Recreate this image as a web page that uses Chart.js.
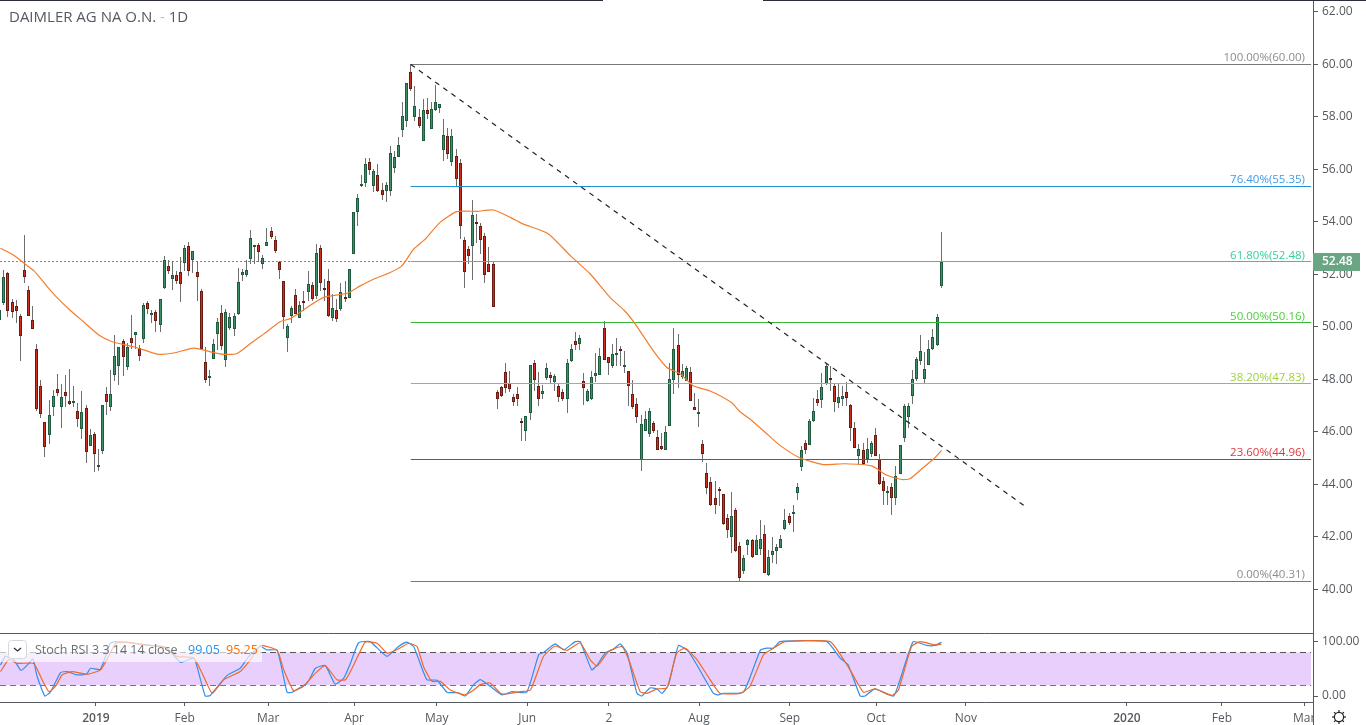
<!DOCTYPE html>
<html>
<head>
<meta charset="utf-8">
<title>DAIMLER AG NA O.N. - 1D</title>
<script src="https://cdn.jsdelivr.net/npm/chart.js@4"></script>
<style>
    html, body { margin: 0; padding: 0; background: #fff; overflow: hidden; }
    canvas { position: absolute; left: 0; }
    #priceChart { top: 0; }
    #stochChart { top: 633px; }
</style>
</head>
<body>
<canvas id="priceChart" width="1366" height="633"></canvas>
<canvas id="stochChart" width="1366" height="92"></canvas>
<script>
// daily candles
const opens = [
    50.27, 50.92, 52.05, 50.96, 50.81, 50.41, 52.18, 51.42, 50.27, 49.16,
    47.75, 46.38, 45.89, 46.93, 47.64, 46.93, 47.51, 47.17, 47.12, 46.79,
    46.12, 46.90, 45.47, 45.91, 44.65, 45.27, 47.43, 46.93, 48.15, 48.49,
    49.46, 48.45, 49.57, 49.67, 49.19, 49.52, 50.91, 50.44, 50.56, 50.05,
    51.47, 52.32, 51.81, 51.98, 52.09, 52.43, 53.08, 52.55, 52.07, 51.37,
    48.66, 48.07, 48.76, 49.71, 50.53, 48.73, 49.95, 49.93, 50.50, 51.96,
    51.96, 52.57, 53.06, 53.13, 52.41, 53.06, 53.65, 53.30, 52.46, 51.74,
    49.59, 50.42, 51.20, 50.35, 50.98, 51.31, 51.59, 51.19, 53.00, 51.49,
    51.74, 50.35, 50.63, 50.66, 51.13, 51.08, 52.76, 54.36, 55.35, 55.47,
    56.28, 55.35, 55.78, 55.21, 55.16, 55.16, 56.04, 56.47, 57.50, 57.85,
    59.72, 57.99, 58.01, 57.08, 58.27, 57.54, 58.28, 58.33, 56.74, 57.27,
    56.28, 56.51, 56.24, 53.30, 52.96, 53.06, 53.99, 53.84, 53.46, 52.40,
    52.40, 47.51, 47.70, 48.27, 47.85, 47.31, 47.43, 46.40, 46.04, 46.73,
    48.61, 47.75, 47.45, 48.03, 48.15, 47.91, 47.75, 47.51, 47.26, 48.71,
    49.45, 49.36, 47.93, 47.17, 47.23, 48.14, 48.18, 49.95, 48.84, 48.49,
    48.96, 49.15, 48.45, 48.31, 47.43, 47.05, 44.92, 46.03, 45.93, 46.32,
    45.79, 45.44, 45.32, 46.20, 47.96, 49.30, 48.10, 47.95, 48.27, 46.93,
    46.69, 45.52, 44.41, 44.07, 43.46, 43.83, 43.61, 42.73, 41.99, 43.00,
    41.66, 40.70, 41.69, 41.88, 41.31, 41.54, 42.12, 40.54, 41.31, 41.46,
    41.57, 42.29, 42.77, 42.91, 43.67, 44.67, 45.56, 45.50, 46.40, 47.24,
    47.22, 47.83, 48.04, 47.73, 47.11, 47.26, 47.50, 47.02, 46.13, 45.09,
    45.29, 44.95, 45.17, 45.86, 44.95, 44.11, 43.70, 43.91, 43.48, 44.40,
    45.77, 46.57, 47.38, 48.00, 48.69, 48.00, 48.54, 49.15, 49.30, 51.54
];
const highs = [
    50.70, 52.17, 52.08, 51.06, 51.02, 50.49, 53.48, 51.57, 50.81, 49.34,
    47.98, 46.38, 47.22, 47.60, 48.20, 47.82, 48.17, 48.39, 47.75, 47.09,
    47.56, 47.01, 46.10, 46.00, 45.33, 47.01, 47.71, 48.36, 49.70, 49.24,
    49.53, 49.37, 50.46, 49.80, 49.32, 50.89, 51.00, 50.64, 50.64, 51.06,
    52.68, 52.55, 52.52, 52.14, 52.65, 53.10, 53.25, 52.90, 52.52, 51.44,
    49.24, 48.36, 49.53, 50.34, 50.84, 50.68, 50.51, 50.52, 52.24, 52.20,
    52.54, 53.69, 53.11, 53.21, 52.74, 53.76, 53.79, 53.46, 52.49, 51.75,
    50.10, 50.80, 51.45, 50.99, 51.37, 52.13, 51.71, 53.16, 53.11, 51.82,
    52.20, 51.24, 51.07, 51.65, 51.75, 52.20, 54.37, 55.06, 55.79, 56.43,
    56.43, 56.01, 56.20, 55.47, 55.50, 56.90, 56.71, 57.25, 58.58, 59.30,
    60.00, 59.19, 58.30, 58.69, 58.72, 58.56, 59.22, 58.50, 57.92, 57.58,
    57.55, 56.78, 56.40, 53.41, 53.09, 54.84, 54.30, 53.95, 53.56, 53.05,
    52.52, 47.58, 47.76, 48.63, 48.32, 47.43, 47.71, 46.51, 46.59, 48.54,
    48.73, 48.28, 47.79, 48.63, 48.28, 48.19, 47.85, 47.62, 48.76, 49.34,
    49.80, 49.69, 48.24, 47.62, 48.32, 49.01, 49.19, 50.23, 48.85, 49.36,
    49.57, 49.27, 49.08, 48.32, 47.96, 47.28, 46.64, 46.79, 46.89, 46.41,
    46.05, 45.95, 46.22, 48.63, 49.95, 49.72, 48.57, 48.51, 48.45, 47.48,
    47.24, 45.67, 44.81, 44.27, 44.12, 43.89, 43.61, 42.85, 43.70, 43.10,
    41.80, 41.32, 41.93, 41.93, 42.08, 42.65, 42.44, 41.51, 41.98, 41.73,
    42.08, 43.07, 42.92, 43.20, 44.03, 45.45, 45.68, 46.47, 47.27, 47.58,
    48.23, 48.60, 48.51, 47.85, 47.81, 47.76, 47.88, 47.04, 46.37, 45.54,
    45.56, 45.75, 45.65, 46.13, 45.14, 44.27, 43.93, 44.05, 44.69, 45.48,
    47.07, 47.11, 48.36, 48.85, 49.68, 49.05, 49.49, 49.91, 50.50, 53.63
];
const lows = [
    50.20, 50.84, 50.36, 50.32, 50.13, 48.71, 51.66, 50.40, 49.90, 46.80,
    46.54, 45.04, 45.54, 46.61, 47.37, 46.16, 46.93, 47.01, 46.93, 46.19,
    45.73, 44.79, 45.47, 44.48, 44.51, 45.17, 46.65, 46.80, 47.94, 47.79,
    48.11, 48.35, 49.15, 49.15, 48.68, 49.37, 50.49, 50.13, 49.79, 49.81,
    51.44, 52.01, 51.42, 51.63, 50.93, 52.12, 51.95, 52.04, 51.00, 49.16,
    47.85, 47.76, 48.76, 49.13, 49.13, 48.45, 49.88, 49.63, 50.45, 51.73,
    51.88, 52.39, 52.39, 52.46, 52.21, 53.06, 53.33, 52.80, 51.83, 49.90,
    49.05, 50.16, 50.48, 50.33, 50.61, 50.99, 50.99, 51.05, 51.35, 50.99,
    50.39, 50.23, 50.20, 50.61, 50.93, 51.08, 52.76, 53.85, 55.34, 55.31,
    55.80, 55.12, 55.12, 54.82, 54.74, 54.97, 55.87, 56.46, 57.22, 57.63,
    59.00, 57.83, 57.57, 57.07, 57.90, 57.53, 58.23, 58.16, 56.31, 56.40,
    56.14, 55.38, 53.33, 51.46, 52.39, 51.80, 53.21, 52.77, 51.65, 52.07,
    50.77, 46.88, 47.33, 47.48, 47.52, 46.98, 46.98, 45.65, 45.65, 46.46,
    47.56, 46.98, 47.23, 47.99, 47.87, 47.56, 47.15, 47.17, 46.73, 48.64,
    49.11, 49.13, 47.03, 47.15, 47.20, 47.90, 48.17, 48.75, 48.17, 48.42,
    48.50, 48.51, 48.22, 46.98, 46.87, 46.35, 44.50, 46.03, 45.80, 45.95,
    45.32, 45.32, 45.32, 46.20, 47.45, 47.65, 48.00, 47.94, 47.18, 46.84,
    46.18, 44.86, 43.63, 43.16, 42.87, 43.16, 42.46, 41.95, 41.38, 41.42,
    40.28, 40.58, 41.29, 41.17, 41.31, 41.32, 40.63, 40.52, 41.00, 40.96,
    41.57, 42.26, 42.46, 42.18, 43.41, 44.50, 45.17, 45.49, 46.38, 46.98,
    46.92, 47.77, 47.55, 46.76, 46.92, 46.98, 46.98, 45.65, 45.39, 44.73,
    44.75, 44.82, 45.05, 45.06, 43.97, 43.20, 43.20, 42.82, 43.20, 44.40,
    45.62, 46.15, 47.07, 47.93, 48.56, 47.84, 48.54, 49.12, 49.27, 51.49
];
const closes = [
    50.65, 51.91, 50.62, 50.55, 50.62, 49.64, 51.89, 50.40, 49.93, 46.85,
    46.66, 45.40, 46.65, 47.36, 47.46, 47.32, 47.35, 47.04, 47.17, 46.47,
    46.75, 45.21, 45.87, 45.17, 44.72, 47.01, 47.12, 47.43, 48.88, 49.23,
    48.83, 49.24, 49.37, 49.80, 48.87, 50.83, 50.67, 50.53, 50.21, 51.06,
    52.55, 52.14, 51.99, 51.73, 51.62, 53.01, 52.12, 52.88, 51.89, 49.16,
    47.96, 48.12, 49.34, 50.18, 49.25, 50.56, 50.36, 50.42, 51.70, 52.08,
    52.16, 53.38, 53.11, 52.85, 52.62, 53.23, 53.44, 52.88, 52.15, 50.39,
    50.02, 50.71, 50.50, 50.82, 50.93, 51.62, 51.05, 52.81, 51.65, 51.45,
    50.43, 50.71, 50.31, 51.32, 51.04, 52.20, 54.37, 54.91, 55.44, 56.20,
    55.96, 55.94, 55.16, 55.01, 55.40, 56.62, 56.47, 56.93, 58.04, 59.30,
    59.05, 58.42, 57.64, 58.27, 58.10, 58.30, 58.57, 58.50, 57.31, 56.57,
    57.27, 55.62, 53.83, 52.07, 52.68, 54.27, 53.94, 53.29, 51.96, 52.07,
    50.77, 47.26, 47.38, 47.65, 47.61, 47.15, 47.23, 46.35, 46.59, 48.54,
    47.99, 47.26, 47.54, 48.42, 48.03, 48.12, 47.34, 47.26, 48.61, 49.15,
    49.32, 49.57, 47.68, 47.54, 48.08, 48.23, 48.88, 48.75, 48.61, 48.96,
    49.01, 49.06, 48.54, 47.73, 46.95, 46.58, 46.28, 46.48, 46.78, 46.03,
    45.32, 45.36, 45.98, 48.00, 49.15, 48.18, 48.31, 48.42, 47.19, 46.84,
    46.74, 45.16, 43.86, 43.21, 43.21, 43.79, 42.49, 42.26, 42.77, 41.46,
    40.43, 41.17, 41.88, 41.23, 41.89, 41.93, 40.63, 41.24, 41.47, 41.62,
    41.93, 42.62, 42.53, 42.96, 43.91, 45.29, 45.31, 46.40, 46.78, 47.11,
    47.71, 48.49, 47.99, 47.15, 47.31, 47.35, 47.27, 46.15, 45.39, 45.33,
    44.78, 45.33, 45.56, 45.09, 43.99, 43.76, 43.74, 43.48, 44.33, 45.48,
    47.00, 47.00, 48.00, 48.76, 49.07, 48.38, 49.15, 49.61, 50.37, 52.48
];

// orange moving average, picked up along its length
const smaBars = [
    0.2, 3.4, 6.1, 8.3, 11.5, 14, 16.8, 20.4, 24.1, 27.4, 32.6, 38.3, 42.3, 47.2, 52, 54.5,
    57.7, 61, 64.2, 68.3, 70.7, 74.7, 78.8, 84.5, 87.7, 90.9, 95, 97.8, 100.7, 103.5, 107.1,
    111.2, 116.1, 120.1, 124.2, 127.1, 133.4, 138.8, 143.6, 148.5, 152, 154.6, 159, 162.3,
    165.5, 168.7, 172.8, 178, 180.1, 182.9, 186.1, 189.8, 194.6, 200.3, 205.6, 212.1, 215.7,
    219.4, 221.4, 224.6, 227.1, 229.1
];
const smaValues = [
    52.99, 52.73, 52.40, 52.14, 51.54, 51.10, 50.68, 50.19, 49.69, 49.43, 49.24, 48.96, 49.00, 49.19, 49.02, 48.95,
    48.98, 49.36, 49.72, 50.20, 50.31, 50.73, 51.12, 51.28, 51.56, 51.81, 52.07, 52.32, 52.96, 53.34, 53.98,
    54.39, 54.40, 54.45, 54.17, 53.93, 53.55, 52.71, 52.02, 51.11, 50.61, 50.10, 49.08, 48.45,
    48.21, 47.75, 47.55, 47.11, 46.76, 46.43, 45.99, 45.48, 45.01, 44.75, 44.78, 44.70, 44.35,
    44.18, 44.21, 44.63, 44.95, 45.29
];

// fibonacci levels
const fibLevels = [60.00, 55.35, 52.48, 50.16, 47.83, 44.96, 40.31];
const fibLabels = ['100.00%(60.00)', '76.40%(55.35)', '61.80%(52.48)', '50.00%(50.16)', '38.20%(47.83)', '23.60%(44.96)', '0.00%(40.31)'];
const fibLineColors = ['#787878', '#1f8fd6', '#22cf9e', '#35b835', '#8fcc1c', '#c62f2f', '#787878'];
const fibTextColors = ['#8c8c8c', '#3f9be6', '#35cf9f', '#4ccf3c', '#9fcf3f', '#e0383e', '#8c8c8c'];
const fibBars = [100, 319];

const trendBars = [100, 250];
const trendValues = [60.00, 43.09];
const lastPrice = 52.48;

// stoch rsi
const kBars = [
    0.2, 1.4, 3.4, 5.2, 7.1, 8.1, 9.1, 11, 12.4, 14.8, 16.4, 18.8, 21.1, 22.1, 24.5, 26.9, 28.2, 32.6, 35.9, 40.7,
    44, 47.2, 48, 50, 51.2, 55.3, 58.5, 60.6, 63.4, 65, 67.5, 69.9, 71.1, 74.8, 76.8, 79.2, 81.6, 83.7, 85.3, 87.3,
    90.1, 94.2, 97, 99, 100.7, 103.9, 106.4, 108.8, 111.6, 113.2, 115.3, 116.9, 119.3, 122.2, 124.6, 128.2, 131.1,
    132.3, 135.1, 137.2, 140, 141.2, 144, 145.3, 147.3, 149.3, 150.9, 152.6, 155, 156.2, 158.2, 159.9, 161.1, 162.7,
    165.1, 167.5, 169.6, 173.6, 174.8, 176, 180.9, 185, 186.6, 188.2, 189.8, 201.2, 204.4, 206.4, 209.3, 210.5, 212.9,
    217.4, 219, 222.2, 225.5, 227.5, 229.1
];
const kValues = [
    57, 73, 67, 47, 60, 68, 36, 0, 8, 43, 45, 39, 40, 51, 49, 97, 100, 97, 94, 88,
    62, 70, 54, 0, 1, 38, 51, 73, 91, 85, 84, 7, 7, 24, 51, 56, 22, 33, 60, 98,
    100, 73, 91, 99, 91, 30, 29, 7, 6, 0, 21, 30, 18, 2, 8, 7, 76,
    80, 96, 85, 100, 100, 48, 57, 79, 86, 96, 79, 5, 0, 15, 13, 5, 21,
    93, 82, 57, 5, 2, 5, 7, 84, 88, 88, 100, 100, 70, 57, 0, 0, 13,
    0, 30, 100, 93, 93, 99.05
];
const dBars = [
    0.2, 2.2, 4.2, 8.3, 10.3, 12, 13.6, 15.2, 17.6, 21.3, 24.5, 26.1, 28.2, 31, 35.9, 39.9, 43.1, 47.2, 49.6, 51.7,
    54.5, 58.5, 61, 63.4, 67.5, 69.1, 71.5, 73.9, 76.8, 79.2, 82, 84.1, 86.1, 88.9, 91.8, 94.2, 96.6, 99.5, 101.5,
    103.1, 105.1, 107.2, 109.6, 113.2, 115.3, 116.9, 119.3, 121.8, 123.4, 126.6, 129.1, 132.3, 135.1, 138, 141.2,
    143.6, 145.3, 148.1, 151.3, 153, 155.8, 157.4, 159.9, 162.3, 164.7, 166.7, 169.6, 172.8, 175.2, 180.1, 182.5,
    185.8, 188.2, 191, 202, 205.6, 207.3, 210.1, 212.9, 217, 218.6, 221.8, 223.9, 227.5, 229.1
];
const dValues = [
    45, 67, 60, 60, 30, 8, 18, 39, 45, 40, 48, 67, 97, 99, 93, 91, 73, 70, 36, 5,
    30, 45, 67, 93, 84, 48, 10, 18, 42, 56, 30, 30, 57, 99, 97, 79, 85, 97, 91,
    54, 27, 27, 11, 2, 11, 21, 24, 5, 4, 8, 11, 73, 92, 84, 98,
    67, 55, 82, 91, 67, 8, 5, 13, 15, 79, 88, 67, 30, 5, 5, 18,
    76, 88, 100, 100, 63, 42, 7, 13, 1, 11, 91, 100, 94, 95.25
];

// axes
const priceTicks = [40, 42, 44, 46, 48, 50, 52, 54, 56, 58, 60, 62];
const stochTicks = [0, 100];
const monthTickBars = [23.4, 45, 65.3, 86.2, 106.3, 128.3, 148.2, 170.1, 192.2, 213.2, 235, 274.2, 297.3, 317.3];
const monthTickLabels = ['2019', 'Feb', 'Mar', 'Apr', 'May', 'Jun', '2', 'Aug', 'Sep', 'Oct', 'Nov', '2020', 'Feb', 'Mar'];

const FONT = '"Open Sans", sans-serif';
const AXIS_COLOR = '#555a60';
const TEXT_COLOR = '#555a60';
const AXIS_WIDTH = 53;
const xMin = 0.073;
const xMax = 319.45;

function pairs(xs, ys) {
    return xs.map((x, i) => ({ x: x, y: ys[i] }));
}

const wicks = opens.map((o, i) => ({ x: i, y: [lows[i], highs[i]] }));
const upBodies = [];
const downBodies = [];
opens.forEach((o, i) => {
    if (closes[i] >= o) upBodies.push({ x: i, y: [o, closes[i]] });
    else downBodies.push({ x: i, y: [closes[i], o] });
});

// keep candles and level lines on whole pixels like the original
const snapMarks = {
    id: 'snapMarks',
    beforeDatasetsDraw(chart) {
        chart.getSortedVisibleDatasetMetas().forEach(meta => {
            if (meta.type === 'bar') {
                meta.data.forEach(el => {
                    const top = Math.round(Math.min(el.y, el.base));
                    const bottom = Math.round(Math.max(el.y, el.base));
                    el.x = Math.floor(el.x) + 0.5;
                    el.y = top;
                    el.base = Math.max(bottom, top + 2);
                });
            } else if (chart.data.datasets[meta.index].snap) {
                meta.data.forEach(pt => { pt.y = Math.floor(pt.y) + 0.5; });
            }
        });
    }
};

function fitAxis(s) {
    s.width = AXIS_WIDTH;
    s.paddingTop = 0;
    s.paddingBottom = 0;
}

const priceDecor = {
    id: 'priceDecor',
    afterDatasetsDraw(chart) {
        const { ctx, scales } = chart;
        ctx.save();
        ctx.font = '11.5px ' + FONT;
        ctx.textAlign = 'right';
        ctx.textBaseline = 'alphabetic';
        fibLevels.forEach((lvl, i) => {
            ctx.fillStyle = fibTextColors[i];
            ctx.fillText(fibLabels[i], 1305, scales.y.getPixelForValue(lvl) - 3);
        });
        ctx.restore();
    },
    afterDraw(chart) {
        const { ctx, scales } = chart;
        ctx.save();
        // title
        ctx.font = '15px ' + FONT;
        ctx.textAlign = 'left';
        ctx.textBaseline = 'middle';
        ctx.fillStyle = TEXT_COLOR;
        ctx.fillText('DAIMLER AG NA O.N.', 9, 18);
        const w = ctx.measureText('DAIMLER AG NA O.N. ').width;
        ctx.fillStyle = '#b9bcc2';
        ctx.fillText('-', 9 + w, 18);
        ctx.fillStyle = TEXT_COLOR;
        ctx.fillText('1D', 9 + w + ctx.measureText('- ').width, 18);

        // top edge of the page
        ctx.fillStyle = '#2a2e39';
        ctx.fillRect(0, 0, 603, 1);
        ctx.fillRect(763, 0, 603, 1);

        // last price tag
        const y = Math.round(scales.y.getPixelForValue(lastPrice));
        ctx.fillStyle = '#6aa584';
        ctx.fillRect(1313, y - 9, 47, 18);
        ctx.font = '600 12px ' + FONT;
        ctx.fillStyle = '#fff';
        ctx.fillText(lastPrice.toFixed(2), 1322, y);
        ctx.restore();
    }
};

const stochDecor = {
    id: 'stochDecor',
    afterDatasetsDraw(chart) {
        const { ctx } = chart;
        ctx.save();
        // legend backdrop
        ctx.fillStyle = 'rgba(255,255,255,0.65)';
        ctx.fillRect(0, 7, 262, 22);
        // dropdown button
        ctx.fillStyle = '#fff';
        ctx.strokeStyle = '#d4d6da';
        ctx.beginPath();
        ctx.roundRect(8.5, 7.5, 18, 18, 3);
        ctx.fill();
        ctx.stroke();
        ctx.strokeStyle = '#333';
        ctx.lineWidth = 1.3;
        ctx.beginPath();
        ctx.moveTo(14, 15);
        ctx.lineTo(17.5, 18);
        ctx.lineTo(21, 15);
        ctx.stroke();
        // legend text
        ctx.font = '12.5px ' + FONT;
        ctx.textAlign = 'left';
        ctx.textBaseline = 'middle';
        ctx.fillStyle = '#6b7078';
        ctx.fillText('Stoch RSI 3 3 14 14 close', 35, 17);
        ctx.fillStyle = '#2196f3';
        ctx.fillText(kValues[kValues.length - 1].toFixed(2), 188, 17);
        ctx.fillStyle = '#ff6d00';
        ctx.fillText(dValues[dValues.length - 1].toFixed(2), 226, 17);
        ctx.restore();
    },
    afterDraw(chart) {
        const { ctx, chartArea } = chart;
        ctx.save();
        // pane top line
        ctx.strokeStyle = AXIS_COLOR;
        ctx.beginPath();
        ctx.moveTo(0, 0.5);
        ctx.lineTo(1313, 0.5);
        ctx.stroke();
        // hide the end of the last month label under the price axis
        ctx.fillStyle = '#fff';
        ctx.fillRect(1314, chartArea.bottom + 1, 52, 23);
        ctx.beginPath();
        ctx.moveTo(1313.5, chartArea.top);
        ctx.lineTo(1313.5, chart.height);
        ctx.stroke();
        // settings icon
        const cx = 1339, cy = 84;
        ctx.strokeStyle = '#222';
        ctx.lineWidth = 1.2;
        ctx.beginPath();
        ctx.arc(cx, cy, 4.6, 0, Math.PI * 2);
        ctx.stroke();
        for (let i = 0; i < 8; i++) {
            const a = i * Math.PI / 4;
            ctx.beginPath();
            ctx.moveTo(cx + Math.cos(a) * 4.6, cy + Math.sin(a) * 4.6);
            ctx.lineTo(cx + Math.cos(a) * 7, cy + Math.sin(a) * 7);
            ctx.stroke();
        }
        ctx.restore();
    }
};

const bandTop = 80;
const bandBottom = 20;

const priceDatasets = [
    {
        type: 'line', label: 'Trend', data: pairs(trendBars, trendValues), order: 0,
        borderColor: '#222', borderWidth: 1.2, borderDash: [5, 5], pointRadius: 0
    },
    {
        type: 'line', label: 'MA', data: pairs(smaBars, smaValues), order: 1,
        borderColor: '#f57c2c', borderWidth: 1.2, pointRadius: 0, tension: 0.2
    }
];
fibLevels.forEach((lvl, i) => {
    priceDatasets.push({
        type: 'line', label: fibLabels[i], data: pairs(fibBars, [lvl, lvl]), order: 2, snap: true,
        borderColor: fibLineColors[i], borderWidth: 1, pointRadius: 0
    });
});
priceDatasets.push(
    {
        label: 'Up', data: upBodies, order: 3, grouped: false, barThickness: 3, borderWidth: 1,
        backgroundColor: '#3f8f66', borderColor: '#1e5a3e', borderSkipped: false, inflateAmount: 0
    },
    {
        label: 'Down', data: downBodies, order: 3, grouped: false, barThickness: 3, borderWidth: 1,
        backgroundColor: '#c9301f', borderColor: '#6b1a12', borderSkipped: false, inflateAmount: 0
    },
    {
        label: 'Wick', data: wicks, order: 4, grouped: false, barThickness: 1, borderWidth: 0,
        backgroundColor: '#6e6e6e', inflateAmount: 0
    },
    {
        type: 'line', label: 'Last', data: pairs([xMin, 100], [lastPrice, lastPrice]), order: 5, snap: true,
        borderColor: '#5f9e7c', borderWidth: 1, borderDash: [2, 2], pointRadius: 0
    }
);

new Chart(document.getElementById('priceChart').getContext('2d'), {
    type: 'bar',
    data: { datasets: priceDatasets },
    plugins: [snapMarks, priceDecor],
    options: {
        responsive: false,
        animation: false,
        devicePixelRatio: 1,
        layout: { padding: 0 },
        plugins: { legend: { display: false }, tooltip: { enabled: false } },
        scales: {
            x: { type: 'linear', min: xMin, max: xMax, offset: false, display: false },
            y: {
                position: 'right',
                min: 38.33,
                max: 62.454,
                afterFit: fitAxis,
                afterBuildTicks: s => { s.ticks = priceTicks.map(v => ({ value: v })); },
                border: { display: true, color: AXIS_COLOR },
                grid: { drawOnChartArea: false, color: AXIS_COLOR, tickLength: 5 },
                ticks: {
                    color: TEXT_COLOR, padding: 4,
                    font: { family: FONT, size: 12 },
                    callback: v => Number(v).toFixed(2)
                }
            }
        }
    }
});

new Chart(document.getElementById('stochChart').getContext('2d'), {
    type: 'line',
    data: {
        datasets: [
            {
                label: '%K', data: pairs(kBars, kValues), order: 1,
                borderColor: '#2f8fee', borderWidth: 1.2, pointRadius: 0, tension: 0.15
            },
            {
                label: '%D', data: pairs(dBars, dValues), order: 0,
                borderColor: '#f0692a', borderWidth: 1.2, pointRadius: 0, tension: 0.15
            },
            {
                label: 'Upper', data: pairs([xMin, 319], [bandTop, bandTop]), order: 2, snap: true,
                borderColor: '#555', borderWidth: 1, borderDash: [6, 4], pointRadius: 0,
                fill: { value: bandBottom }, backgroundColor: '#e9d0fc'
            },
            {
                label: 'Lower', data: pairs([xMin, 319], [bandBottom, bandBottom]), order: 2, snap: true,
                borderColor: '#555', borderWidth: 1, borderDash: [6, 4], pointRadius: 0
            }
        ]
    },
    plugins: [snapMarks, stochDecor],
    options: {
        responsive: false,
        animation: false,
        devicePixelRatio: 1,
        layout: { padding: 0 },
        plugins: { legend: { display: false }, tooltip: { enabled: false } },
        scales: {
            x: {
                type: 'linear',
                min: xMin,
                max: xMax,
                afterFit: s => { s.height = 23; s.paddingLeft = 0; s.paddingRight = 0; },
                afterBuildTicks: s => { s.ticks = monthTickBars.map(v => ({ value: v })); },
                border: { display: true, color: AXIS_COLOR },
                grid: { drawOnChartArea: false, color: AXIS_COLOR, tickLength: 4 },
                ticks: {
                    autoSkip: false, maxRotation: 0, color: TEXT_COLOR, padding: 5,
                    font: ctx => ({
                        family: FONT, size: 12,
                        weight: ctx.tick && /^\d{4}$/.test(ctx.tick.label) ? '600' : '400'
                    }),
                    callback: (v, i) => monthTickLabels[i]
                }
            },
            y: {
                position: 'right',
                min: -11,
                max: 115.9,
                afterFit: fitAxis,
                afterBuildTicks: s => { s.ticks = stochTicks.map(v => ({ value: v })); },
                border: { display: true, color: AXIS_COLOR },
                grid: { drawOnChartArea: false, color: AXIS_COLOR, tickLength: 5 },
                ticks: {
                    color: TEXT_COLOR, padding: 4,
                    font: { family: FONT, size: 12 },
                    callback: v => Number(v).toFixed(2)
                }
            }
        }
    }
});
</script>
</body>
</html>
